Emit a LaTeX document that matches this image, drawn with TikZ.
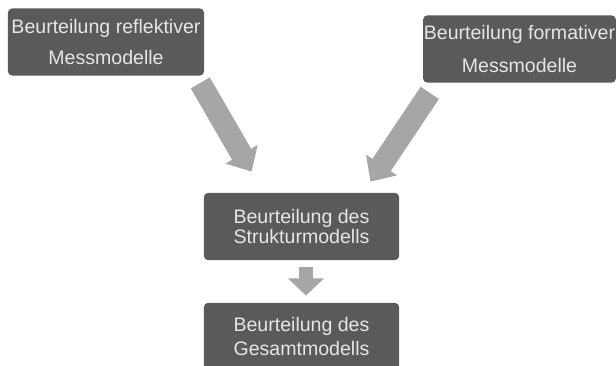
\documentclass[tikz,border=0pt]{standalone}
\usepackage{fontspec}
\setmainfont{Liberation Sans}
\usepackage{xcolor}
\usetikzlibrary{positioning, arrows.meta, calc}

\definecolor{boxgray}{HTML}{5A5A5A}
\definecolor{boxtext}{HTML}{E6E6E6}
\definecolor{arrowgray}{HTML}{A6A6A6}

\begin{document}
\begin{tikzpicture}[x=0.025cm, y=-0.025cm]

\tikzset{
    stagebox/.style={rectangle, rounded corners=3pt, fill=boxgray, text=boxtext,
        align=center, inner sep=0pt, minimum height=1.68cm},
    topfont/.style={font=\fontsize{13.9}{22}\selectfont},
    lowfont/.style={font=\fontsize{13.9}{14.5}\selectfont},
    fatarrow/.style={arrowgray, line width=0.55cm,
        -{Triangle[width=0.9cm, length=0.5cm]}},
    smallarrow/.style={arrowgray, line width=0.35cm,
        -{Triangle[width=0.875cm, length=0.43cm]}}
}

\useasboundingbox (0,0) rectangle (616,366);

%====================================================
% TOP: measurement models
%====================================================
\node[stagebox, topfont, minimum width=4.9cm] (refl) at (106,42)
    {Beurteilung reflektiver\\Messmodelle};
\node[stagebox, font=\fontsize{13.9}{24}\selectfont, minimum width=4.82cm] (form) at (519.5,49)
    {Beurteilung formativer\\Messmodelle};

%====================================================
% BOTTOM: structural and overall model
%====================================================
\node[stagebox, lowfont, minimum width=4.88cm] (struct) at (301.5,226.5)
    {Beurteilung des\\Strukturmodells};
\node[stagebox, font=\fontsize{13.9}{16.5}\selectfont, minimum width=4.88cm] (total) at (301.5,336.5)
    {Beurteilung des\\Gesamtmodells};

%====================================================
% ARROWS
%====================================================
\draw[fatarrow] ($(refl.south east)+(-4,7)$) -- ($(struct.north west)+(48,-21)$);
\draw[fatarrow] ($(form.south west)+(7,10)$) -- ($(struct.north east)+(-29,-11)$);
\draw[smallarrow] ($(struct.south)+(4.5,7)$) -- ($(total.north)+(4.5,-7)$);

\end{tikzpicture}
\end{document}
